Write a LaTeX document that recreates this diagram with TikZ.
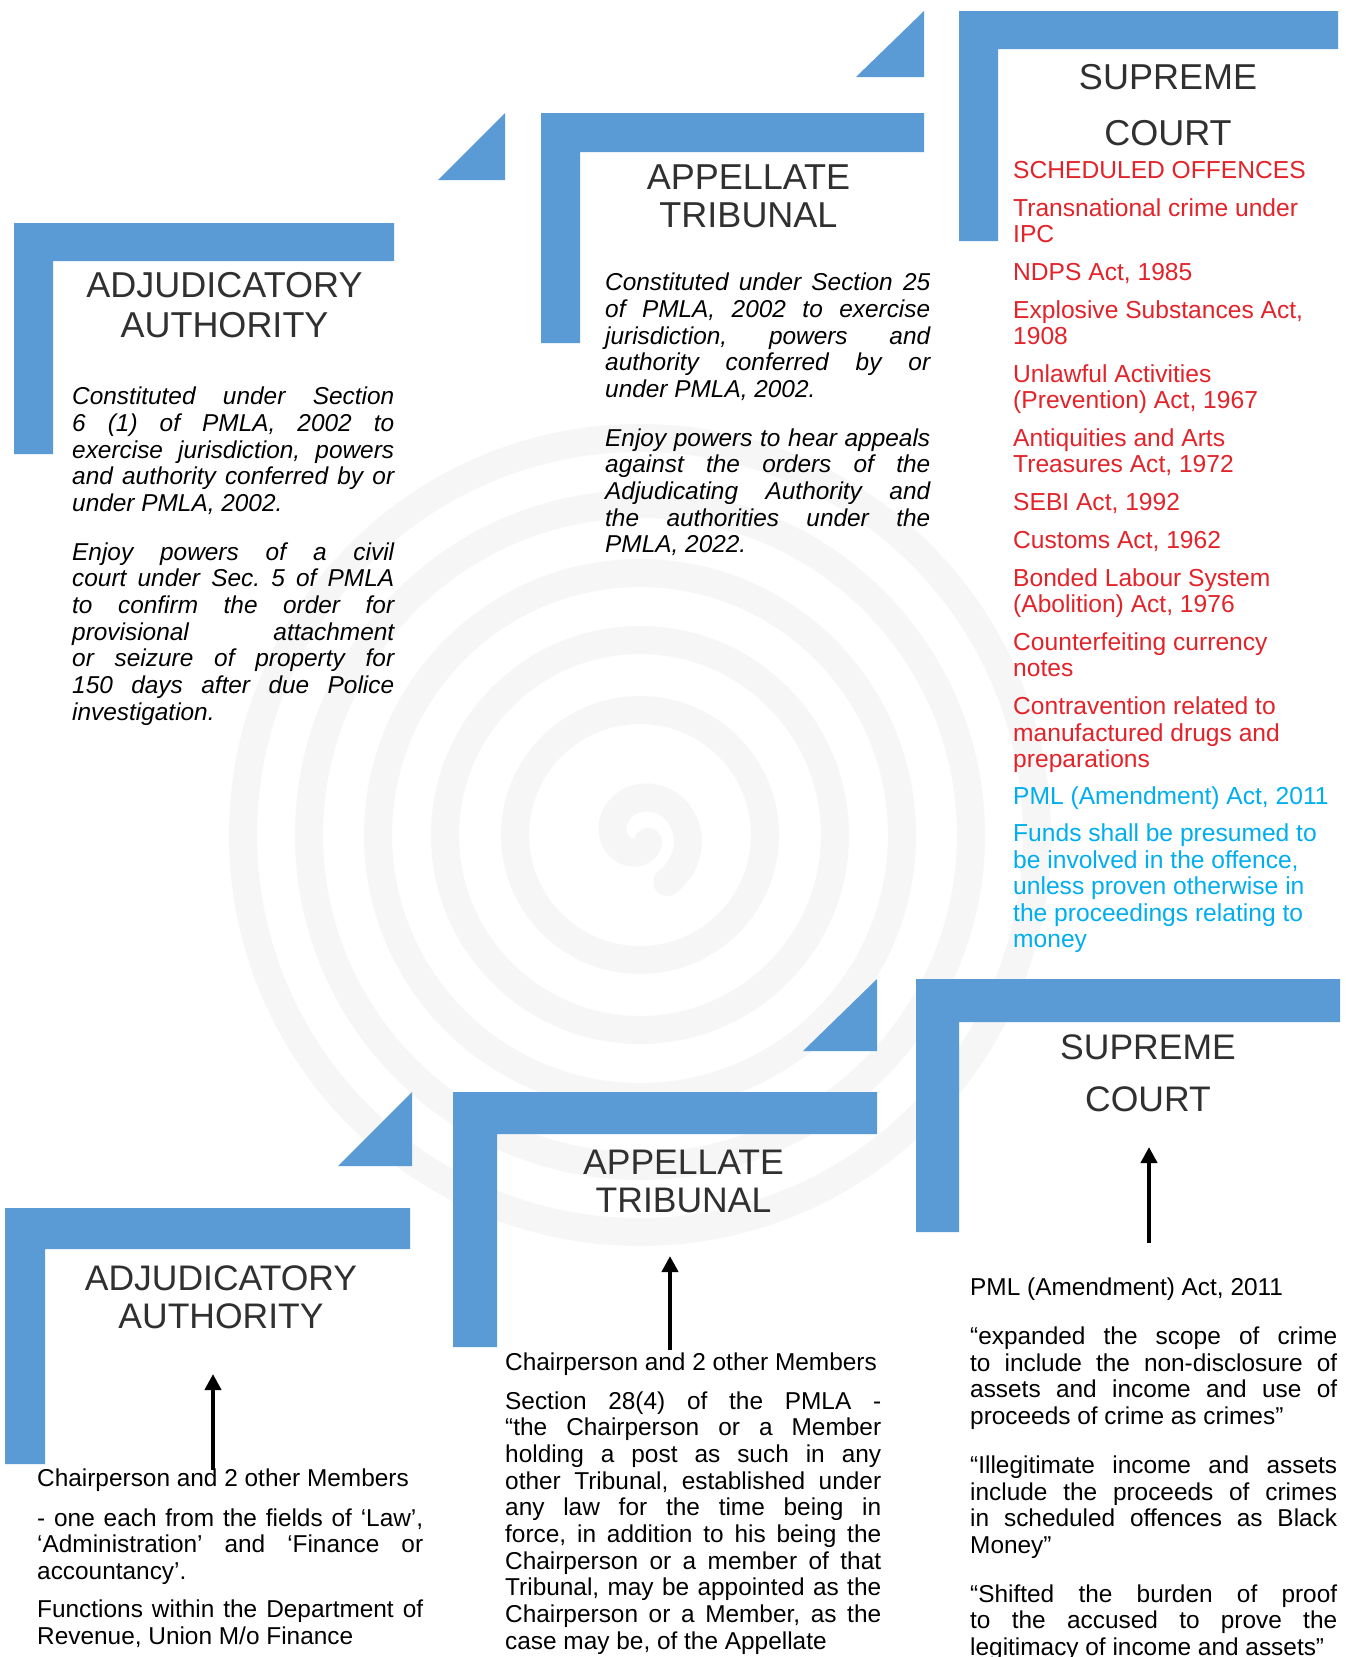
\documentclass[tikz,border=0pt]{standalone}
\usepackage{fontspec}
\setmainfont{Liberation Sans}
\usetikzlibrary{arrows.meta}

\definecolor{barblue}{HTML}{5B9BD5}
\definecolor{offred}{HTML}{E2232A}
\definecolor{amdcyan}{HTML}{00AEEF}
\definecolor{titlegray}{HTML}{303030}
\definecolor{swirlgray}{HTML}{F6F6F6}

\hyphenpenalty=10000
\exhyphenpenalty=10000
\frenchspacing

\begin{document}
\begin{tikzpicture}[x=1pt,y=-1pt,
  bar/.style={fill=barblue},
  title/.style={align=center,text=titlegray,inner sep=0pt,font=\fontsize{36}{40}\selectfont},
  body/.style={anchor=north west,inner sep=0pt,align=justify,font=\fontsize{24.4}{26.7}\selectfont},
  note/.style={body,font=\fontsize{24.4}{26.7}\selectfont\itshape},
  list/.style={anchor=north west,inner sep=0pt,align=left,font=\fontsize{24.6}{26.4}\selectfont},
  uparrow/.style={line width=4pt,-{Triangle[width=16pt,length=16pt]}},
  swirl/.style={draw=swirlgray,line width=28pt,line cap=round}]

% Page
\useasboundingbox[fill=white] (0,0) rectangle (1346,1657);

% Swirl behind everything
\def\cx{640}
\def\cy{835}
\foreach \r in {125,195,262,331,397}
  \draw[swirl] (\cx,\cy) circle[radius=\r pt];
\draw[swirl] plot[domain=40:420,samples=80]
  ({\cx+(6+0.115*\x)*cos(\x)},{\cy+(6+0.115*\x)*sin(\x)});

% Top row: steps
\fill[bar] (438,180) -- (505,180) -- (505,113) -- cycle;
\fill[bar] (14,223) -- (394,223) -- (394,261) -- (53,261) -- (53,454) -- (14,454) -- cycle;
\fill[bar] (541,113) -- (924,113) -- (924,152) -- (580,152) -- (580,343) -- (541,343) -- cycle;
\fill[bar] (856,77) -- (924,77) -- (924,11) -- cycle;
\fill[bar] (959,11) -- (1338,11) -- (1338,49) -- (998,49) -- (998,241) -- (959,241) -- cycle;

% Top row: titles
\node[title] (adj-title) at (224.5,305) {ADJUDICATORY\\AUTHORITY};
\node[title,font=\fontsize{36}{38}\selectfont] (app-title) at (748.5,196.5) {APPELLATE\\TRIBUNAL};
\node[title,font=\fontsize{36}{56}\selectfont] (sup-title) at (1168,105) {SUPREME\\COURT};

% Top row: texts
\node[note,text width=322pt] (adj-text) at (72,387) {Constituted under Section\linebreak
  6 (1) of PMLA, 2002 to\linebreak exercise jurisdiction, powers\linebreak
  and authority conferred by or\linebreak under PMLA, 2002.\par\vspace{21.8pt}
  Enjoy powers of a civil\linebreak court under Sec. 5 of PMLA\linebreak
  to confirm the order for\linebreak provisional attachment\linebreak
  or seizure of property for\linebreak 150 days after due Police\linebreak investigation.};

\node[note,text width=325pt] (app-text) at (605,273) {Constituted under Section 25\linebreak
  of PMLA, 2002 to exercise\linebreak jurisdiction, powers and\linebreak
  authority conferred by or\linebreak under PMLA, 2002.\par\vspace{21.8pt}
  Enjoy powers to hear appeals\linebreak against the orders of the\linebreak
  Adjudicating Authority and\linebreak the authorities under the\linebreak PMLA, 2022.};

\node[list,text=offred] (sc-list) at (1013,161) {SCHEDULED OFFENCES\\[11.4pt]
  Transnational crime under\\IPC\\[11.4pt]
  NDPS Act, 1985\\[11.4pt]
  Explosive Substances Act,\\1908\\[11.4pt]
  Unlawful Activities\\(Prevention) Act, 1967\\[11.4pt]
  Antiquities and Arts\\Treasures Act, 1972\\[11.4pt]
  SEBI Act, 1992\\[11.4pt]
  Customs Act, 1962\\[11.4pt]
  Bonded Labour System\\(Abolition) Act, 1976\\[11.4pt]
  Counterfeiting currency\\notes\\[11.4pt]
  Contravention related to\\manufactured drugs and\\preparations};

\node[list,text=amdcyan] (pml-list) at (1013,786) {PML (Amendment) Act, 2011\\[11.4pt]
  Funds shall be presumed to\\be involved in the offence,\\unless proven otherwise in\\
  the proceedings relating to\\money};

% Bottom row: steps
\fill[bar] (338,1166) -- (412,1166) -- (412,1092) -- cycle;
\fill[bar] (5,1208) -- (410,1208) -- (410,1249) -- (45,1249) -- (45,1464) -- (5,1464) -- cycle;
\fill[bar] (453,1092) -- (877,1092) -- (877,1134) -- (497,1134) -- (497,1347) -- (453,1347) -- cycle;
\fill[bar] (803,1051) -- (877,1051) -- (877,979) -- cycle;
\fill[bar] (916,979) -- (1340,979) -- (1340,1022) -- (959,1022) -- (959,1232) -- (916,1232) -- cycle;

% Bottom row: titles
\node[title,font=\fontsize{35.5}{38}\selectfont] (adj2-title) at (221,1297) {ADJUDICATORY\\AUTHORITY};
\node[title,font=\fontsize{35.5}{38}\selectfont] (app2-title) at (683.5,1181) {APPELLATE\\TRIBUNAL};
\node[title,font=\fontsize{35.5}{52}\selectfont] (sup2-title) at (1148,1073) {SUPREME\\COURT};

% Bottom row: texts
\node[body,text width=386pt] (adj2-text) at (37,1469) {Chairperson and 2 other Members\par\vspace{12.5pt}
  - one each from the fields of ‘Law’,\linebreak ‘Administration’ and ‘Finance or\linebreak
  accountancy’.\par\vspace{11.5pt}
  Functions within the Department of\linebreak Revenue, Union M/o Finance};

\node[body,text width=376pt] (app2-text) at (505,1353) {Chairperson and 2 other Members\par\vspace{11.5pt}
  Section 28(4) of the PMLA -\linebreak “the Chairperson or a Member\linebreak
  holding a post as such in any\linebreak other Tribunal, established under\linebreak
  any law for the time being in\linebreak force, in addition to his being the\linebreak
  Chairperson or a member of that\linebreak Tribunal, may be appointed as the\linebreak
  Chairperson or a Member, as the\linebreak case may be, of the Appellate};

\node[body,text width=367pt] (sup2-text) at (970,1278) {PML (Amendment) Act, 2011\par\vspace{22pt}
  “expanded the scope of crime\linebreak to include the non-disclosure of\linebreak
  assets and income and use of\linebreak proceeds of crime as crimes”\par\vspace{22pt}
  “Illegitimate income and assets\linebreak include the proceeds of crimes\linebreak
  in scheduled offences as Black\linebreak Money”\par\vspace{22pt}
  “Shifted the burden of proof\linebreak to the accused to prove the\linebreak
  legitimacy of income and assets”};

% Arrows
\coordinate (adj2-tail) at (213,1470);
\coordinate (adj2-head) at (213,1374);
\coordinate (app2-tail) at (670,1350);
\coordinate (app2-head) at (670,1256);
\coordinate (sup2-tail) at (1149,1243);
\coordinate (sup2-head) at (1149,1147);
\draw[uparrow] (adj2-tail) -- (adj2-head);
\draw[uparrow] (app2-tail) -- (app2-head);
\draw[uparrow] (sup2-tail) -- (sup2-head);

\end{tikzpicture}
\end{document}
